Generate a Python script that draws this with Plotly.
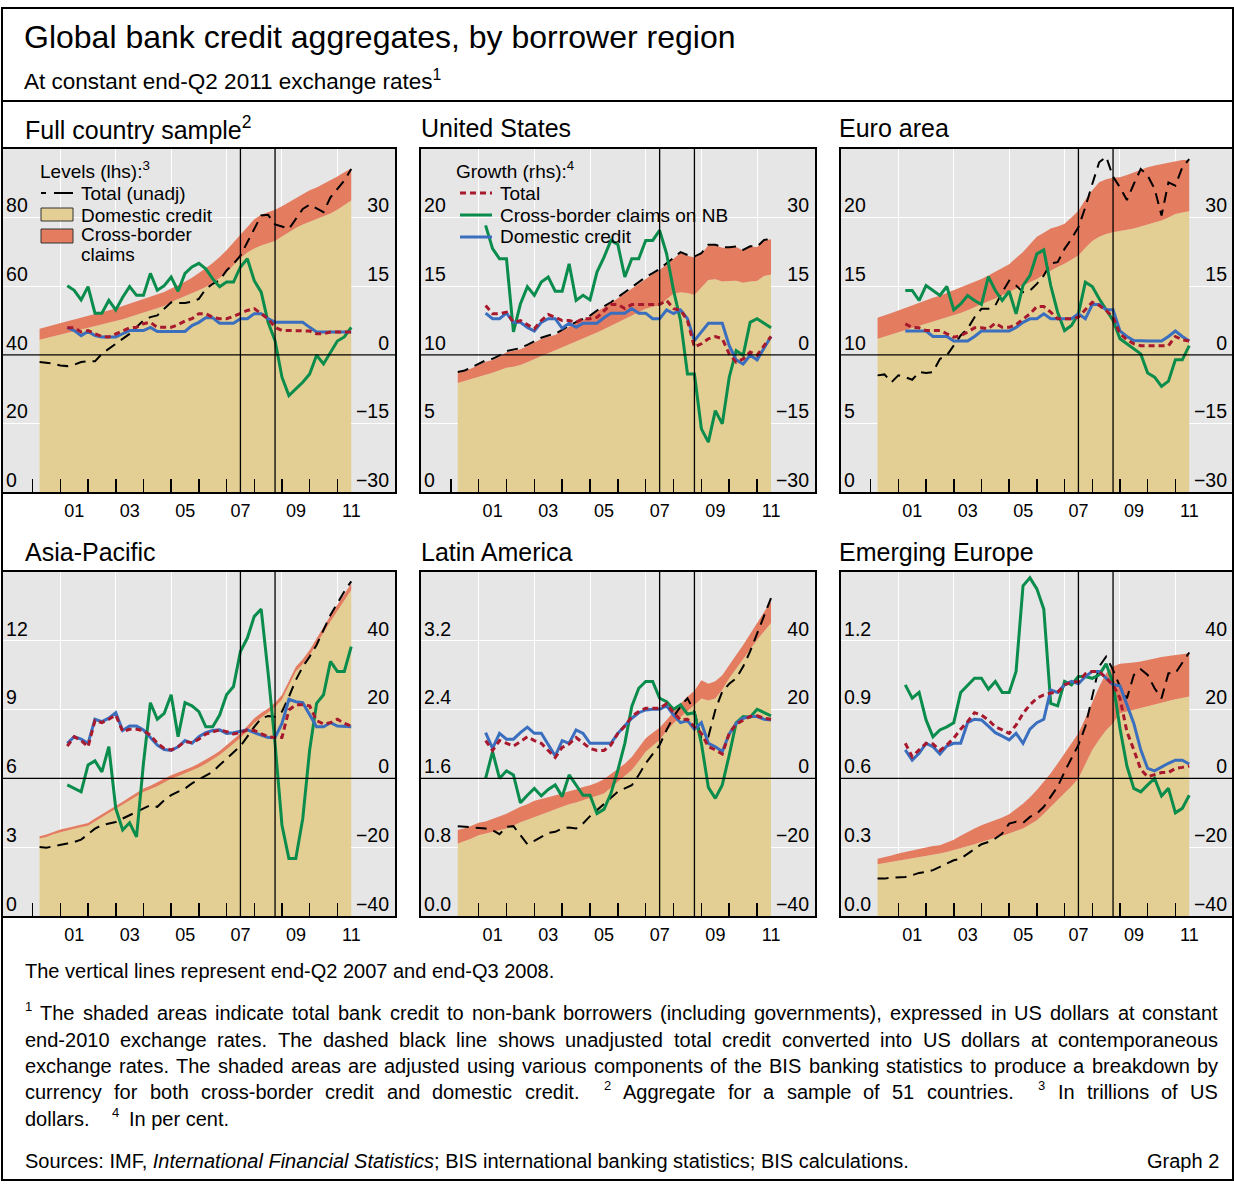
import plotly.graph_objects as go

W, H = 1234, 1184
FONT = "Liberation Sans, Arial, Helvetica, sans-serif"

# ---------------- data ----------------
# quarterly observation dates (end of quarter), 2000Q1 .. 2011Q2
LEVEL_DATES = [y + q / 4 for y in range(2000, 2012) for q in range(1, 5)][:46]
GROWTH_DATES = LEVEL_DATES[4:]          # year-on-year growth starts 2001Q1
EVENT_DATES = [2007.5, 2008.75]         # end-Q2 2007, end-Q3 2008
YEAR_TICKS = list(range(2000, 2012))
LABEL_YEARS = [2001, 2003, 2005, 2007, 2009, 2011]
LABEL_TEXT = ["01", "03", "05", "07", "09", "11"]

# Full country sample (USD trn; growth in %)
full_dom = [44.4, 44.9, 45.4, 45.9, 46.4, 46.9, 47.3, 47.7, 48.2, 48.7, 49.2, 49.8,
            50.4, 51.0, 51.6, 52.2, 52.8, 53.5, 54.2, 55.4, 56.2, 57.0, 57.9, 58.8,
            59.8, 61.0, 62.4, 64.0, 66.2, 68.2, 69.8, 71.0, 71.9, 72.5, 73.2, 74.5,
            75.8, 77.0, 78.0, 78.8, 79.5, 80.3, 81.2, 82.3, 83.6, 85.0]
full_adj = [47.6, 48.2, 48.8, 49.3, 49.8, 50.3, 50.8, 51.3, 51.8, 52.3, 52.9, 53.5,
            54.2, 54.9, 55.5, 56.1, 56.8, 57.5, 58.3, 59.3, 60.2, 61.3, 62.5, 63.8,
            65.2, 66.8, 68.5, 70.5, 72.8, 75.0, 77.5, 79.5, 80.8, 81.5, 82.3, 83.3,
            84.5, 85.8, 87.0, 88.0, 88.8, 89.8, 90.8, 92.0, 93.2, 94.3]
full_unadj = [37.9, 37.7, 37.4, 36.9, 36.7, 37.1, 37.9, 38.1, 38.1, 40.3, 41.7, 43.2,
              44.7, 46.1, 48.1, 50.0, 51.0, 51.5, 53.4, 55.3, 55.1, 55.1, 55.5, 56.3,
              59.2, 60.7, 61.7, 64.6, 66.5, 68.9, 72.8, 76.7, 80.6, 80.8, 78.0, 77.4,
              76.7, 79.6, 82.5, 83.8, 82.8, 81.6, 85.9, 88.3, 90.8, 94.2]
full_g_cb = [15.1, 14.1, 12.0, 14.9, 9.1, 9.1, 11.9, 9.8, 12.6, 14.9, 13.0, 13.0, 17.8,
             14.1, 15.1, 17.0, 13.9, 17.8, 19.2, 20.0, 18.8, 16.6, 14.9, 15.9, 15.9,
             19.2, 21.0, 16.2, 13.7, 7.1, 3.1, -4.9, -8.9, -7.4, -6.0, -4.2, -0.1,
             -2.0, 0.6, 3.0, 3.9, 6.0]
full_g_tot = [5.9, 5.9, 5.0, 5.3, 4.6, 4.0, 3.9, 4.6, 5.3, 5.9, 6.0, 6.8, 7.1, 6.0, 6.0,
              6.0, 6.6, 7.4, 7.9, 9.0, 9.0, 8.2, 7.9, 7.9, 8.4, 9.0, 9.7, 10.1, 9.0,
              7.9, 6.0, 5.3, 5.3, 5.3, 5.3, 5.2, 4.6, 4.6, 5.0, 5.0, 5.0, 5.0]
full_g_dom = [6.0, 5.3, 4.2, 5.1, 4.2, 3.9, 3.9, 3.9, 4.6, 5.3, 5.3, 5.3, 6.0, 5.1, 5.1,
              5.1, 5.1, 5.1, 6.4, 7.1, 8.1, 8.1, 6.9, 6.9, 6.9, 7.9, 7.9, 9.0, 9.0,
              7.9, 7.1, 7.1, 7.1, 7.1, 7.1, 6.0, 5.0, 5.0, 5.0, 5.0, 5.0, 5.0]

# United States
us_dom = [7.94, 8.08, 8.22, 8.4, 8.55, 8.7, 8.88, 9.05, 9.12, 9.25, 9.45, 9.7,
          9.92, 10.12, 10.33, 10.56, 10.75, 10.98, 11.2, 11.41, 11.62, 11.86, 12.1, 12.38,
          12.6, 12.85, 13.1, 13.35, 13.5, 13.6, 14.05, 14.45, 14.55, 14.5, 14.35, 14.9,
          15.45, 15.5, 15.35, 15.38, 15.4, 15.25, 15.35, 15.38, 15.75, 15.85]
us_adj = [8.68, 8.8, 9.02, 9.26, 9.5, 9.63, 9.86, 10.18, 10.28, 10.4, 10.64, 10.9,
          11.15, 11.32, 11.45, 11.73, 12.05, 12.3, 12.54, 12.78, 13.15, 13.45, 13.76, 14.12,
          14.48, 14.85, 15.2, 15.58, 15.88, 16.18, 16.6, 17.05, 17.42, 17.22, 17.1, 17.35,
          17.98, 17.98, 17.8, 17.8, 17.85, 17.6, 17.87, 17.85, 18.33, 18.42]
us_unadj = [8.74, 8.86, 9.10, 9.34, 9.59, 9.71, 9.95, 10.27, 10.36, 10.49, 10.73, 11.0,
            11.24, 11.41, 11.53, 11.82, 12.14, 12.38, 12.62, 12.86, 13.23, 13.52, 13.83, 14.2,
            14.56, 14.93, 15.29, 15.66, 15.95, 16.26, 16.67, 17.11, 17.48, 17.28, 17.16, 17.4,
            18.03, 18.03, 17.84, 17.84, 17.89, 17.65, 17.91, 17.89, 18.37, 18.45]
us_g_cb = [28.3, 23.2, 21.0, 21.0, 5.0, 11.1, 14.9, 13.0, 15.9, 17.0, 13.9, 13.9, 19.9,
           11.9, 13.0, 12.0, 18.1, 21.3, 25.0, 24.1, 17.0, 21.0, 21.0, 25.0, 25.0, 27.2,
           22.1, 14.1, 7.5, -4.2, -4.2, -16.2, -19.1, -12.2, -15.1, -4.9, 0.9, -0.1,
           7.1, 7.9, 6.9, 5.9]
us_g_tot = [10.8, 9.0, 9.0, 9.3, 7.1, 7.5, 6.6, 5.7, 7.5, 8.8, 8.2, 7.5, 7.5, 7.1, 7.9,
            7.9, 8.2, 9.7, 11.0, 11.0, 10.1, 11.0, 11.0, 11.0, 11.0, 11.0, 11.9, 10.1,
            9.8, 7.5, 1.7, 2.4, 3.5, 4.0, 3.5, 0.2, -1.6, -0.9, 0.6, -0.1, 2.0, 4.0]
us_g_dom = [9.1, 7.9, 7.9, 9.1, 7.1, 7.1, 6.0, 5.2, 7.1, 7.9, 7.9, 5.8, 6.9, 6.0, 6.9,
            6.9, 6.9, 8.1, 9.1, 9.1, 9.1, 10.1, 9.1, 9.1, 7.9, 7.9, 9.8, 9.0, 9.8, 7.9,
            3.1, 5.0, 6.9, 6.9, 6.9, 2.0, -1.1, -2.0, -0.1, -1.1, 1.3, 4.0]

# Euro area
eu_dom = [11.17, 11.3, 11.48, 11.65, 11.8, 11.95, 12.1, 12.26, 12.4, 12.55, 12.7, 12.86,
          13.05, 13.25, 13.48, 13.7, 13.9, 14.1, 14.33, 14.56, 14.8, 15.05, 15.3, 15.53,
          15.85, 16.14, 16.4, 16.63, 16.9, 17.23, 17.8, 18.3, 18.6, 18.8, 18.93, 19.05,
          19.12, 19.2, 19.35, 19.5, 19.62, 19.78, 20.0, 20.27, 20.38, 20.46]
eu_adj = [12.7, 12.85, 13.05, 13.23, 13.42, 13.6, 13.8, 14.0, 14.15, 14.3, 14.5, 14.68,
          14.88, 15.1, 15.3, 15.53, 15.78, 16.05, 16.3, 16.6, 17.05, 17.5, 18.05, 18.6,
          18.9, 19.2, 19.35, 19.56, 20.0, 20.5, 21.3, 22.0, 22.57, 22.8, 22.9, 22.94,
          23.1, 23.3, 23.5, 23.67, 23.8, 23.9, 24.05, 24.15, 24.2, 24.2]
eu_unadj = [8.5, 8.57, 8.0, 8.5, 8.37, 8.18, 8.74, 8.67, 8.74, 9.7, 9.95, 10.68,
            11.41, 11.9, 12.74, 13.35, 13.35, 13.6, 14.56, 15.4, 15.05, 14.56, 14.68, 15.17,
            15.78, 16.67, 16.75, 17.72, 18.45, 19.3, 20.75, 22.45, 24.03, 24.44, 22.98, 22.2,
            21.28, 22.45, 23.54, 23.06, 22.09, 20.15, 22.57, 22.33, 23.67, 24.27]
eu_g_cb = [14.06, 14.06, 11.87, 15.15, 14.06, 12.96, 14.93, 9.83, 11.14, 12.96, 11.87,
           11.0, 17.1, 14.06, 11.87, 13.9, 8.96, 15.15, 17.3, 22.07, 22.94, 15.15, 9.32,
           5.3, 6.4, 8.96, 15.88, 14.93, 12.24, 9.83, 7.5, 3.5, 2.4, 1.3, 0.2, -4.0,
           -4.9, -6.9, -5.75, -1.1, -1.1, 2.0]
eu_g_tot = [6.77, 6.0, 5.9, 5.3, 5.3, 5.3, 4.6, 3.86, 4.2, 4.95, 5.9, 5.9, 5.7, 6.9, 6.0,
            6.0, 6.6, 7.87, 8.96, 10.56, 10.56, 9.32, 7.87, 7.87, 7.87, 8.23, 9.83, 11.5,
            10.8, 9.7, 8.23, 4.6, 3.28, 2.4, 2.0, 2.0, 2.0, 2.0, 2.0, 4.0, 3.28, 3.0]
eu_g_dom = [5.2, 5.2, 5.2, 5.2, 4.0, 4.0, 4.0, 3.0, 3.0, 3.0, 4.0, 5.2, 5.2, 5.2, 5.2,
            5.2, 6.0, 7.1, 7.87, 7.87, 8.96, 7.87, 7.87, 7.87, 7.87, 8.96, 7.87, 11.0,
            11.0, 9.83, 9.83, 5.2, 4.0, 3.1, 3.0, 3.0, 3.0, 3.0, 4.0, 5.2, 4.0, 3.0]

# Asia-Pacific
ap_dom = [3.38, 3.45, 3.56, 3.66, 3.73, 3.8, 3.86, 3.94, 4.12, 4.3, 4.47, 4.66,
          4.85, 5.04, 5.22, 5.41, 5.53, 5.66, 5.82, 5.98, 6.09, 6.21, 6.33, 6.48,
          6.64, 6.82, 7.02, 7.26, 7.5, 7.76, 8.08, 8.42, 8.65, 8.86, 9.1, 9.44,
          10.05, 10.66, 10.98, 11.37, 11.86, 12.37, 12.84, 13.3, 13.78, 14.22]
ap_adj = [3.48, 3.55, 3.66, 3.77, 3.84, 3.92, 3.98, 4.06, 4.25, 4.43, 4.6, 4.79,
          4.98, 5.18, 5.37, 5.56, 5.68, 5.82, 5.98, 6.14, 6.25, 6.38, 6.5, 6.65,
          6.82, 7.0, 7.2, 7.45, 7.7, 7.96, 8.28, 8.62, 8.85, 9.05, 9.3, 9.64,
          10.25, 10.87, 11.2, 11.6, 12.1, 12.62, 13.1, 13.57, 14.05, 14.5]
ap_unadj = [3.01, 2.98, 3.04, 3.09, 3.16, 3.23, 3.33, 3.57, 3.81, 3.96, 4.03, 4.1,
            4.25, 4.4, 4.54, 4.69, 4.83, 4.76, 5.05, 5.27, 5.41, 5.56, 5.78, 5.95,
            6.1, 6.29, 6.58, 6.87, 7.12, 7.41, 7.82, 8.25, 8.62, 8.72, 8.69, 8.91,
            9.56, 10.29, 10.87, 11.31, 11.82, 12.47, 13.13, 13.64, 14.15, 14.59]
ap_g_cb = [-1.9, -2.9, -3.9, 3.9, 5.1, 1.9, 9.2, -8.7, -15.0, -12.9, -17.0, 4.4, 22.0,
           17.2, 18.9, 24.3, 12.1, 22.0, 21.1, 19.4, 15.0, 15.0, 18.4, 24.3, 26.7, 36.9,
           40.8, 47.1, 49.2, 30.6, 10.2, -13.6, -23.3, -23.3, -11.7, 8.3, 21.8, 24.3,
           34.0, 31.1, 31.1, 38.3]
ap_g_tot = [9.4, 12.1, 11.0, 9.2, 16.8, 16.2, 17.2, 18.4, 13.6, 14.3, 14.3, 13.9, 12.6,
            10.2, 8.7, 8.3, 9.2, 10.7, 10.4, 11.4, 12.9, 13.6, 14.1, 13.6, 12.9, 13.3,
            14.1, 13.9, 12.9, 12.1, 11.9, 11.9, 19.9, 21.4, 21.4, 21.1, 16.8, 15.8,
            16.2, 17.2, 16.0, 15.2]
ap_g_dom = [10.2, 12.1, 11.4, 10.2, 17.2, 16.5, 17.5, 19.1, 13.9, 15.2, 15.2, 14.1, 11.9,
            9.7, 8.4, 8.1, 9.2, 11.0, 10.2, 12.1, 13.3, 13.9, 14.1, 13.1, 13.3, 13.6,
            14.1, 13.3, 12.6, 11.9, 11.9, 16.0, 23.0, 22.3, 22.0, 18.7, 15.0, 15.0,
            16.2, 15.2, 15.0, 15.0]

# Latin America
la_dom = [0.843, 0.87, 0.9, 0.94, 0.96, 0.98, 1.0, 1.017, 1.05, 1.09, 1.12, 1.153,
          1.18, 1.21, 1.24, 1.27, 1.3, 1.32, 1.345, 1.367, 1.395, 1.425, 1.49, 1.56,
          1.63, 1.697, 1.8, 1.91, 1.98, 2.047, 2.15, 2.24, 2.31, 2.377, 2.454, 2.53,
          2.505, 2.53, 2.63, 2.765, 2.88, 3.0, 3.1, 3.21, 3.31, 3.406]
la_adj = [1.0, 1.02, 1.05, 1.083, 1.1, 1.13, 1.16, 1.19, 1.23, 1.27, 1.3, 1.34,
          1.36, 1.38, 1.4, 1.425, 1.45, 1.47, 1.5, 1.52, 1.55, 1.59, 1.65, 1.705,
          1.77, 1.85, 1.96, 2.066, 2.13, 2.19, 2.28, 2.376, 2.47, 2.55, 2.62, 2.74,
          2.7, 2.73, 2.8, 2.92, 3.03, 3.15, 3.28, 3.41, 3.53, 3.66]
la_unadj = [1.045, 1.037, 1.03, 1.017, 1.017, 0.998, 0.951, 1.037, 1.045, 0.94, 0.835, 0.874,
            0.92, 0.967, 0.979, 1.017, 1.03, 1.017, 1.076, 1.161, 1.231, 1.30, 1.367, 1.445,
            1.483, 1.52, 1.64, 1.775, 1.883, 1.988, 2.163, 2.318, 2.435, 2.532, 2.377, 2.066,
            2.085, 2.396, 2.61, 2.7, 2.765, 2.9, 3.076, 3.29, 3.483, 3.697]
la_g_cb = [0.0, 7.8, 0.0, 2.2, 1.0, -7.1, -4.9, -2.9, -5.1, -3.2, -1.9, -5.3, 1.0, -1.9,
           -4.9, -4.9, -10.2, -9.0, -4.4, 2.4, 10.2, 20.9, 26.2, 28.2, 28.2, 23.3, 22.3,
           20.1, 21.4, 18.7, 19.1, 10.2, -2.6, -5.8, -1.9, 6.8, 16.2, 18.0, 17.8, 20.1,
           19.1, 18.2]
la_g_tot = [11.0, 8.1, 11.0, 10.2, 9.4, 10.7, 12.1, 11.0, 10.2, 8.1, 6.1, 9.0, 10.0, 11.9,
            10.2, 8.7, 8.1, 8.1, 9.7, 13.1, 15.2, 18.0, 19.4, 20.4, 20.4, 20.4, 21.7, 19.1,
            17.0, 17.2, 15.0, 13.1, 9.2, 8.3, 7.1, 13.1, 15.8, 17.0, 18.0, 18.2, 17.5, 17.2]
la_g_dom = [13.3, 8.7, 13.1, 11.4, 11.4, 13.3, 14.9, 13.1, 13.1, 9.7, 6.5, 11.0, 10.2, 14.1,
            13.1, 10.2, 10.2, 10.2, 10.2, 13.1, 15.2, 17.5, 19.1, 19.9, 20.1, 20.1, 21.1,
            18.4, 16.2, 16.8, 14.3, 16.2, 10.2, 9.2, 7.8, 12.9, 16.0, 17.5, 18.0, 18.0,
            17.2, 17.0]

# Emerging Europe
ee_dom = [0.226, 0.231, 0.237, 0.243, 0.247, 0.252, 0.256, 0.26, 0.266, 0.272, 0.279, 0.287,
          0.295, 0.304, 0.313, 0.323, 0.331, 0.34, 0.35, 0.36, 0.37, 0.382, 0.399, 0.418,
          0.446, 0.476, 0.505, 0.534, 0.566, 0.6, 0.665, 0.724, 0.77, 0.81, 0.84, 0.884,
          0.892, 0.9, 0.906, 0.913, 0.921, 0.93, 0.937, 0.945, 0.951, 0.957]
ee_adj = [0.25, 0.256, 0.264, 0.272, 0.279, 0.286, 0.294, 0.301, 0.305, 0.309, 0.32, 0.333,
          0.35, 0.367, 0.381, 0.396, 0.407, 0.418, 0.43, 0.444, 0.466, 0.49, 0.518, 0.549,
          0.585, 0.622, 0.665, 0.709, 0.752, 0.797, 0.862, 0.935, 1.0, 1.059, 1.088, 1.1,
          1.102, 1.105, 1.11, 1.117, 1.123, 1.129, 1.134, 1.139, 1.143, 1.146]
ee_unadj = [0.163, 0.163, 0.167, 0.17, 0.17, 0.178, 0.188, 0.192, 0.2, 0.214, 0.229, 0.243,
            0.25, 0.272, 0.294, 0.313, 0.323, 0.338, 0.36, 0.403, 0.411, 0.406, 0.432, 0.447,
            0.476, 0.52, 0.564, 0.629, 0.687, 0.746, 0.826, 0.957, 1.088, 1.131, 1.073, 1.0,
            0.949, 1.051, 1.076, 1.051, 0.993, 0.949, 1.059, 1.059, 1.102, 1.149]
ee_g_cb = [27.2, 23.3, 25.0, 17.0, 12.1, 14.1, 15.0, 16.2, 25.0, 27.2, 29.1, 29.1, 25.9,
           28.2, 25.0, 25.0, 31.1, 56.0, 58.3, 55.1, 49.2, 21.8, 21.1, 28.2, 27.2, 29.6,
           29.6, 29.1, 30.1, 33.3, 27.7, 14.6, 3.6, -2.9, -3.9, -1.9, 0.0, -5.1, -2.9,
           -10.0, -8.7, -4.9]
ee_g_tot = [10.2, 6.3, 8.3, 10.2, 10.0, 8.1, 9.7, 11.7, 14.3, 16.5, 19.1, 18.4, 17.0, 15.0,
            14.1, 13.1, 15.5, 18.9, 21.4, 23.3, 24.3, 24.8, 25.0, 27.2, 27.9, 28.2, 30.4,
            31.1, 31.1, 29.1, 27.2, 23.3, 13.6, 8.3, 2.6, 0.5, 1.0, 1.7, 1.7, 2.9, 3.2, 3.6]
ee_g_dom = [8.3, 5.3, 7.3, 10.2, 9.2, 7.1, 9.4, 10.2, 10.2, 16.2, 17.2, 17.0, 15.2, 13.3,
            12.3, 11.2, 13.1, 10.2, 14.3, 16.2, 17.2, 25.7, 25.0, 27.2, 28.2, 27.5, 29.6,
            31.1, 31.1, 29.1, 27.2, 26.9, 21.4, 16.0, 8.3, 2.9, 2.2, 3.4, 4.4, 5.3, 5.3, 4.2]

PANEL_TITLES = ["Full country sample<sup>2</sup>", "United States", "Euro area",
                "Asia-Pacific", "Latin America", "Emerging Europe"]
LEFT_RANGES = [[0, 100], [0, 25], [0, 25], [0, 15], [0, 4], [0, 1.5]]
RIGHT_RANGES = [[-30, 45]] * 3 + [[-40, 60]] * 3
LEFT_TICKS = [[0, 20, 40, 60, 80], [0, 5, 10, 15, 20], [0, 5, 10, 15, 20],
              [0, 3, 6, 9, 12], [0, 0.8, 1.6, 2.4, 3.2], [0, 0.3, 0.6, 0.9, 1.2]]
LEFT_TEXT = [["0", "20", "40", "60", "80"], ["0", "5", "10", "15", "20"],
             ["0", "5", "10", "15", "20"], ["0", "3", "6", "9", "12"],
             ["0.0", "0.8", "1.6", "2.4", "3.2"], ["0.0", "0.3", "0.6", "0.9", "1.2"]]
RIGHT_TICKS = [[-30, -15, 0, 15, 30]] * 3 + [[-40, -20, 0, 20, 40]] * 3

SERIES = [
    (full_dom, full_adj, full_unadj, full_g_cb, full_g_dom, full_g_tot),
    (us_dom, us_adj, us_unadj, us_g_cb, us_g_dom, us_g_tot),
    (eu_dom, eu_adj, eu_unadj, eu_g_cb, eu_g_dom, eu_g_tot),
    (ap_dom, ap_adj, ap_unadj, ap_g_cb, ap_g_dom, ap_g_tot),
    (la_dom, la_adj, la_unadj, la_g_cb, la_g_dom, la_g_tot),
    (ee_dom, ee_adj, ee_unadj, ee_g_cb, ee_g_dom, ee_g_tot),
]

# ---------------- styling / layout geometry ----------------
BG = "#e6e6e6"
TAN = "#e3cf93"
SALMON = "#e47c60"
GREEN = "#0a8c4c"
BLUE = "#3a6ebe"
RED = "#a8192e"

# panel boxes in pixels: (left, right, top, bottom)
BOXES = [(3, 395, 149, 492), (421, 815, 149, 492), (841, 1233, 149, 492),
         (3, 395, 572, 916), (421, 815, 572, 916), (841, 1233, 572, 916)]
TITLE_POS = [(25, 128), (421, 128), (839, 128), (25, 552), (421, 552), (839, 552)]
XRANGE = [1998.93, 2013.08]


def px(x):
    return x / W


def py(y):
    return 1 - y / H


fig = go.Figure()
layout = {}
annotations = []
shapes = []

for i in range(6):
    n = i + 1
    xa = "x" if n == 1 else f"x{n}"
    yl = "y" if n == 1 else f"y{2 * n - 1}"
    yr = f"y{2 * n}"
    dom, adj, unadj, g_cb, g_dom, g_tot = SERIES[i]
    common = dict(xaxis=xa, mode="lines", showlegend=False, hoverinfo="skip")
    fig.add_trace(go.Scatter(x=LEVEL_DATES, y=dom, yaxis=yl, fill="tozeroy",
                             fillcolor=TAN, line=dict(width=0, color=TAN),
                             name="Domestic credit", **common))
    fig.add_trace(go.Scatter(x=LEVEL_DATES, y=adj, yaxis=yl, fill="tonexty",
                             fillcolor=SALMON, line=dict(width=0, color=SALMON),
                             name="Cross-border claims", **common))
    fig.add_trace(go.Scatter(x=LEVEL_DATES, y=unadj, yaxis=yl,
                             line=dict(color="black", width=2, dash="11px,7px"),
                             name="Total (unadj)", **common))
    fig.add_trace(go.Scatter(x=GROWTH_DATES, y=g_cb, yaxis=yr,
                             line=dict(color=GREEN, width=3),
                             name="Cross-border claims on NB", **common))
    fig.add_trace(go.Scatter(x=GROWTH_DATES, y=g_dom, yaxis=yr,
                             line=dict(color=BLUE, width=3),
                             name="Domestic credit growth", **common))
    fig.add_trace(go.Scatter(x=GROWTH_DATES, y=g_tot, yaxis=yr,
                             line=dict(color=RED, width=3, dash="6px,4px"),
                             name="Total growth", **common))

    l, r, t, b = BOXES[i]
    xkey = "xaxis" if n == 1 else f"xaxis{n}"
    ylkey = "yaxis" if n == 1 else f"yaxis{2 * n - 1}"
    yrkey = f"yaxis{2 * n}"
    layout[xkey] = dict(
        domain=[px(l), px(r)], anchor=yl, range=XRANGE, tickmode="array",
        tickvals=LABEL_YEARS, ticktext=LABEL_TEXT, ticks="", ticklabelshift=14,
        ticklabelstandoff=1,
        showgrid=True, gridcolor="white", gridwidth=1, zeroline=False,
        showline=True, mirror=True, linecolor="black", linewidth=2,
        tickfont=dict(family=FONT, size=18, color="black"), layer="above traces",
        minor=dict(tickmode="array", tickvals=YEAR_TICKS, ticks="inside",
                   ticklen=13, tickwidth=1.5, tickcolor="black", showgrid=False),
        fixedrange=True,
    )
    layout[ylkey] = dict(
        domain=[py(b), py(t)], anchor=xa, range=LEFT_RANGES[i], tickmode="array",
        tickvals=LEFT_TICKS[i], ticktext=LEFT_TEXT[i], ticks="",
        ticklabelposition="inside", ticklabelshift=-12, ticklabelstandoff=4,
        showgrid=True, gridcolor="white", gridwidth=1, zeroline=False,
        showline=True, mirror=True, linecolor="black", linewidth=2,
        tickfont=dict(family=FONT, size=19.5, color="black"), layer="above traces",
        fixedrange=True,
    )
    layout[yrkey] = dict(
        overlaying=yl, side="right", anchor=xa, range=RIGHT_RANGES[i], tickmode="array",
        tickvals=RIGHT_TICKS[i], ticks="", ticklabelposition="inside",
        ticklabelshift=-12, ticklabelstandoff=3, showgrid=False, zeroline=False,
        showline=False, tickfont=dict(family=FONT, size=19.5, color="black"),
        layer="above traces", fixedrange=True,
    )
    # zero line of the growth axis and event lines
    shapes.append(dict(type="line", xref=f"{xa} domain", yref=yr, x0=0, x1=1, y0=0, y1=0,
                       line=dict(color="black", width=1.3), layer="above"))
    for d in EVENT_DATES:
        shapes.append(dict(type="line", xref=xa, yref=f"{yl} domain", x0=d, x1=d, y0=0,
                           y1=1, line=dict(color="black", width=1.3), layer="above"))
    tx, ty = TITLE_POS[i]
    annotations.append(dict(text=PANEL_TITLES[i], x=px(tx), y=py(ty), xref="paper",
                            yref="paper", xanchor="left", yanchor="middle",
                            showarrow=False, font=dict(family=FONT, size=25, color="black"),
                            borderpad=0, borderwidth=0))


def add_text(text, x, y, size, anchor="left"):
    annotations.append(dict(text=text, x=px(x), y=py(y), xref="paper", yref="paper",
                            xanchor=anchor, yanchor="middle", showarrow=False,
                            font=dict(family=FONT, size=size, color="black"),
                            borderpad=0, borderwidth=0))


# header
add_text("Global bank credit aggregates, by borrower region", 24, 37, 32)
add_text("At constant end-Q2 2011 exchange rates<sup>1</sup>", 24, 80, 22.5)

# manual legends
add_text("Levels (lhs):<sup>3</sup>", 40, 170, 19)
add_text("Total (unadj)", 81, 194, 19)
add_text("Domestic credit", 81, 215, 19)
add_text("Cross-border", 81, 235, 19)
add_text("claims", 81, 255, 19)
shapes.append(dict(type="line", xref="paper", yref="paper", x0=px(41), x1=px(73),
                   y0=py(193), y1=py(193),
                   line=dict(color="black", width=2, dash="5px,8px,19px")))
shapes.append(dict(type="rect", xref="paper", yref="paper", x0=px(41), x1=px(73),
                   y0=py(221), y1=py(208), fillcolor=TAN, line=dict(color="#333", width=1)))
shapes.append(dict(type="rect", xref="paper", yref="paper", x0=px(41), x1=px(73),
                   y0=py(243), y1=py(229), fillcolor=SALMON, line=dict(color="#333", width=1)))

add_text("Growth (rhs):<sup>4</sup>", 456, 170, 19)
add_text("Total", 500, 194, 19)
add_text("Cross-border claims on NB", 500, 215, 19)
add_text("Domestic credit", 500, 237, 19)
for yy, col, dash in [(193, RED, "6px,4px"), (215, GREEN, "solid"), (237, BLUE, "solid")]:
    shapes.append(dict(type="line", xref="paper", yref="paper", x0=px(460), x1=px(492),
                       y0=py(yy), y1=py(yy), line=dict(color=col, width=3, dash=dash)))

# frame
shapes.append(dict(type="rect", xref="paper", yref="paper", x0=px(2), x1=px(1233),
                   y0=py(1180), y1=py(8), line=dict(color="black", width=2),
                   fillcolor="rgba(0,0,0,0)", layer="above"))
shapes.append(dict(type="line", xref="paper", yref="paper", x0=px(2), x1=px(1233),
                   y0=py(101), y1=py(101), line=dict(color="black", width=2)))

# ---------------- footnotes (justified by word placement) ----------------
AW = {" ": 278, "(": 333, ")": 333, ",": 278, "-": 333, ".": 278, ":": 278, ";": 278}
for c in "0123456789":
    AW[c] = 556
AW.update(dict(A=667, B=667, C=722, D=722, E=667, F=611, G=778, H=722, I=278, J=500,
               K=667, L=556, M=833, N=722, O=778, P=667, Q=778, R=722, S=667, T=611,
               U=722, V=667, W=944, X=667, Y=667, Z=611))
AW.update(dict(a=556, b=556, c=500, d=556, e=556, f=278, g=556, h=556, i=222, j=222,
               k=500, l=222, m=833, n=556, o=556, p=556, q=556, r=333, s=500, t=278,
               u=556, v=500, w=722, x=500, y=500, z=500))

FN_SIZE = 20
SUP_SIZE = 13


def tw(s, size):
    return sum(AW.get(c, 556) for c in s) * size / 1000


def place_word(tok, x, y):
    if tok.startswith("^"):
        add_text(tok[1:], x, y - 7, SUP_SIZE)
        return tw(tok[1:], SUP_SIZE)
    add_text(tok, x, y, FN_SIZE)
    return tw(tok, FN_SIZE)


FN_VERTICAL = "The vertical lines represent end-Q2 2007 and end-Q3 2008."
FN_JUSTIFIED = [
    "^1 The shaded areas indicate total bank credit to non-bank borrowers (including "
    "governments), expressed in US dollars at constant",
    "end-2010 exchange rates. The dashed black line shows unadjusted total credit "
    "converted into US dollars at contemporaneous",
    "exchange rates. The shaded areas are adjusted using various components of the BIS "
    "banking statistics to produce a breakdown by",
    "currency for both cross-border credit and domestic credit. ~ ^2 Aggregate for a "
    "sample of 51 countries. ~ ^3 In trillions of US",
]
FN_Y = [1013, 1040, 1066, 1092]
X0, X1 = 25, 1218

add_text(FN_VERTICAL, X0, 971, FN_SIZE)
for line, yy in zip(FN_JUSTIFIED, FN_Y):
    toks = line.split(" ")
    words, weights = [], []
    extra = 0
    for tk in toks:
        if tk == "~":
            extra += 1
            continue
        if words:
            weights.append(1 + extra)
        extra = 0
        words.append(tk)
    widths = [tw(w[1:], SUP_SIZE) if w.startswith("^") else tw(w, FN_SIZE) for w in words]
    gap = (X1 - X0 - sum(widths)) / sum(weights)
    x = X0
    for k, w in enumerate(words):
        place_word(w, x, yy)
        x += widths[k]
        if k < len(weights):
            x += gap * weights[k]

add_text("dollars.", X0, 1119, FN_SIZE)
add_text("4", 112, 1112, SUP_SIZE)
add_text("In per cent.", 129, 1119, FN_SIZE)

add_text("Sources: IMF, <i>International Financial Statistics</i>; BIS international "
         "banking statistics; BIS calculations.", X0, 1161, FN_SIZE)
add_text("Graph 2", 1219, 1161, FN_SIZE, anchor="right")

fig.update_layout(
    width=W, height=H, autosize=False, margin=dict(l=0, r=0, t=0, b=0, pad=0),
    paper_bgcolor="white", plot_bgcolor=BG, showlegend=False,
    font=dict(family=FONT, color="black"),
    annotations=annotations, shapes=shapes, **layout,
)

fig.write_html("out.html", include_plotlyjs=True, full_html=True,
               config={"displayModeBar": False, "staticPlot": True},
               post_script="document.body.style.margin='0px';")
